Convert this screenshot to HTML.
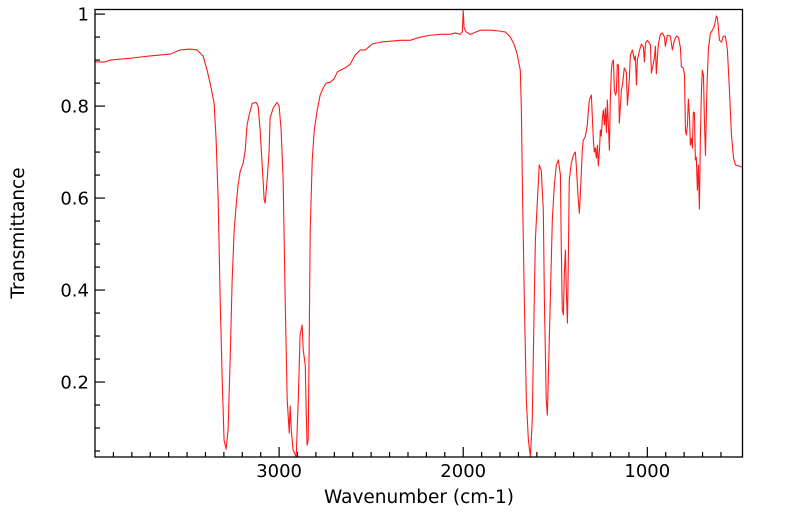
<!DOCTYPE html>
<html><head><meta charset="utf-8"><style>
html,body{margin:0;padding:0;background:#fff;}
svg{display:block;font-family:"DejaVu Sans","Liberation Sans",sans-serif;}
</style></head><body>
<svg id="chart" width="799" height="516" viewBox="0 0 799 516" xmlns="http://www.w3.org/2000/svg">
<g id="ticks"></g>
<g id="labels"></g>
<path id="line" fill="none" stroke="#ff1a1a" stroke-width="1.1" stroke-linejoin="round"/>
<rect x="95" y="9.5" width="647.5" height="447.5" fill="none" stroke="#000" stroke-width="1.3"/>
<text x="419" y="503" font-size="18.5" text-anchor="middle">Wavenumber (cm-1)</text>
<text x="24" y="233" font-size="18.5" text-anchor="middle" transform="rotate(-90 24 233)">Transmittance</text>
</svg>
<script>
const wavenumbers=[4000,3945,3918,3809,3701,3592,3538,3483,3445,3413,3391,3369,3353,3342,3331,3320,3309,3299,3288,3277,3266,3255,3244,3233,3223,3212,3195,3184,3174,3163,3146,3125,3114,3103,3092,3081,3076,3065,3054,3049,3032,3011,3000,2989,2978,2967,2956,2945,2940,2934,2924,2907,2896,2886,2875,2869,2858,2853,2848,2842,2837,2831,2820,2809,2793,2777,2761,2744,2723,2701,2684,2668,2641,2614,2587,2559,2532,2494,2451,2396,2342,2288,2233,2179,2125,2071,2043,2016,2005,2000,1995,1984,1962,1908,1853,1799,1771,1744,1722,1706,1690,1684,1679,1668,1657,1646,1635,1625,1614,1608,1597,1587,1576,1565,1559,1549,1543,1538,1527,1516,1505,1494,1483,1472,1467,1462,1456,1451,1445,1440,1434,1429,1424,1413,1402,1391,1386,1375,1369,1364,1353,1348,1337,1326,1320,1315,1304,1299,1293,1288,1282,1277,1271,1266,1260,1255,1250,1244,1239,1233,1228,1222,1217,1212,1206,1201,1195,1190,1184,1179,1173,1168,1163,1157,1152,1141,1135,1125,1114,1108,1097,1092,1081,1070,1065,1059,1054,1043,1032,1021,1016,1010,999,983,978,972,962,956,951,940,929,918,907,902,891,875,864,853,842,831,820,815,804,798,793,788,782,777,771,766,760,755,750,744,739,734,728,723,717,712,706,701,695,690,684,679,674,668,657,646,636,625,619,608,597,587,576,565,554,543,532,521,505,483];
const transmittance=[.896,.896,.900,.904,.909,.913,.922,.924,.922,.909,.878,.839,.806,.726,.596,.378,.204,.074,.054,.096,.248,.422,.530,.585,.628,.657,.676,.704,.759,.780,.806,.808,.800,.748,.672,.596,.589,.639,.704,.774,.796,.808,.800,.748,.639,.378,.161,.089,.148,.096,.052,.037,.161,.302,.324,.270,.237,.139,.063,.074,.270,.530,.683,.748,.791,.824,.839,.850,.852,.859,.874,.878,.883,.891,.911,.922,.922,.935,.939,.941,.943,.943,.950,.954,.956,.956,.959,.956,.961,1.008,.970,.961,.956,.965,.965,.963,.961,.950,.933,.911,.878,.791,.639,.378,.161,.074,.037,.117,.378,.509,.596,.672,.660,.574,.378,.161,.128,.204,.378,.552,.628,.672,.683,.650,.487,.357,.346,.433,.487,.400,.328,.465,.639,.676,.693,.700,.672,.596,.567,.607,.704,.726,.733,.759,.791,.813,.824,.780,.726,.700,.709,.687,.715,.670,.704,.748,.735,.774,.791,.759,.796,.743,.813,.763,.704,.813,.878,.896,.900,.835,.824,.830,.891,.889,.763,.835,.846,.883,.874,.802,.863,.911,.922,.900,.909,.846,.900,.920,.935,.928,.896,.937,.943,.933,.872,.883,.904,.930,.870,.935,.956,.959,.950,.930,.954,.952,.922,.943,.952,.950,.926,.885,.883,.867,.748,.737,.759,.815,.778,.715,.730,.709,.787,.785,.683,.689,.617,.672,.576,.726,.835,.878,.867,.770,.693,.791,.867,.926,.959,.965,.974,.996,.991,.943,.939,.952,.952,.922,.835,.737,.687,.672,.670,.667];
const yTickLabels=["0.2","0.4","0.6","0.8","1"];
const xTickLabels=["3000","2000","1000"];

const X0=95,X1=742.5,Y0=9.5,Y1=457;
const wMax=4000,wMin=483,tMin=0.037,tMax=1.010;
function xs(w){return X0+(wMax-w)/(wMax-wMin)*(X1-X0);}
function ys(t){return Y1-(t-tMin)/(tMax-tMin)*(Y1-Y0);}
const NS="http://www.w3.org/2000/svg";
let d="";
for(let i=0;i<wavenumbers.length;i++){d+=(i?"L":"M")+xs(wavenumbers[i]).toFixed(2)+","+ys(transmittance[i]).toFixed(2);}
document.getElementById("line").setAttribute("d",d);
const tg=document.getElementById("ticks"),lg=document.getElementById("labels");
function ln(x1,y1,x2,y2,name){const l=document.createElementNS(NS,"line");
l.setAttribute("x1",x1);l.setAttribute("y1",y1);l.setAttribute("x2",x2);l.setAttribute("y2",y2);
l.setAttribute("stroke","#000");l.setAttribute("stroke-width","1.2");


tg.appendChild(l);}
function tx(x,y,s,anchor,name){const t=document.createElementNS(NS,"text");
t.setAttribute("x",x);t.setAttribute("y",y);t.setAttribute("font-size","18");t.setAttribute("text-anchor",anchor);t.textContent=s;


lg.appendChild(t);}
for(let k=1;k<=20;k++){const v=k*0.05;if(v<tMin||v>tMax+1e-9)continue;const y=ys(v);const major=(k%4===0);
ln(X0,y,X0+(major?10:5),y,major?"y-major-tick":"y-minor-tick");}
yTickLabels.forEach(s=>{tx(89,ys(parseFloat(s))+6.5,s,"end","y-tick-label");});
for(let w=600;w<=3900;w+=100){const x=xs(w);const major=(w%1000===0);
ln(x,Y1,x,Y1-(major?10:5),major?"x-major-tick":"x-minor-tick");}
xTickLabels.forEach(s=>{tx(xs(parseFloat(s)),477,s,"middle","x-tick-label");});
</script>
</body></html>
